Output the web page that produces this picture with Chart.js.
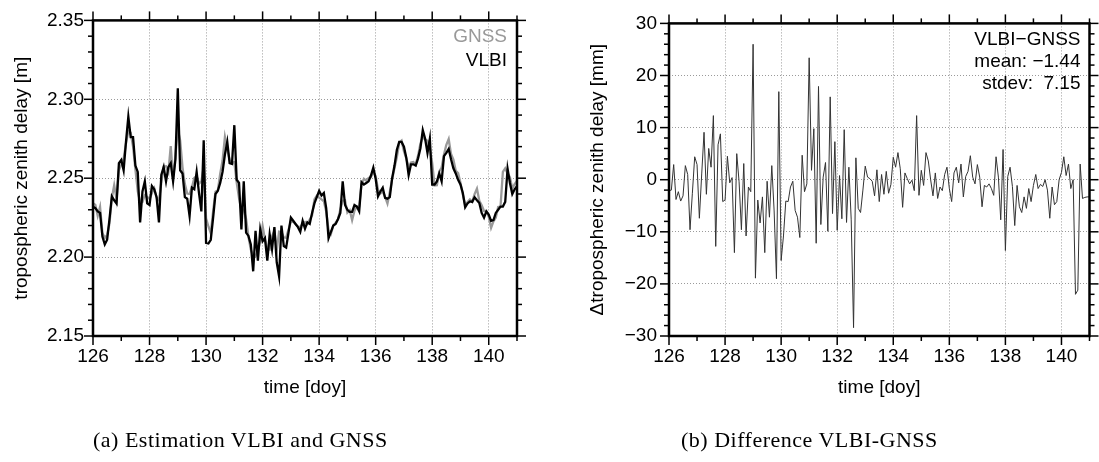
<!DOCTYPE html>
<html>
<head>
<meta charset="utf-8">
<script src="https://cdn.jsdelivr.net/npm/chart.js@4.4.1/dist/chart.umd.min.js"></script>
<style>
  html, body { margin: 0; padding: 0; background: #fff; }
  #wrap { position: relative; width: 1099px; height: 462px; overflow: hidden; background: #fff; }
  canvas { position: absolute; top: 0; }
  #cvLeft { left: 0; width: 549px; height: 462px; }
  #cvRight { left: 549px; width: 550px; height: 462px; }
  .caption { position: absolute; font-family: "Liberation Serif", serif; font-size: 22px; letter-spacing: 0.5px; color: #000; white-space: pre; }
</style>
</head>
<body>
<div id="wrap">
  <canvas id="cvLeft" width="549" height="462"></canvas>
  <canvas id="cvRight" width="550" height="462"></canvas>
  <div class="caption" style="left:93px; top:427px">(a) Estimation VLBI and GNSS</div>
  <div class="caption" style="left:681px; top:427px">(b) Difference VLBI-GNSS</div>
</div>
<script>
// sampling: 2-hourly values from doy 126.0 to 141.0
const DOY_START = 126;
const STEP_HOURS = 2;

// VLBI zenith delay [m]
const vlbiZtd = [
  2.232, 2.231, 2.229, 2.228, 2.213, 2.208, 2.211, 2.224, 2.2385, 2.236,
  2.234, 2.2595, 2.2615, 2.255, 2.273, 2.289, 2.276, 2.276, 2.258, 2.254,
  2.222, 2.2416, 2.248, 2.234, 2.233, 2.245, 2.243, 2.238, 2.222, 2.252,
  2.257, 2.248, 2.257, 2.2595, 2.248, 2.262, 2.307, 2.255, 2.253, 2.238,
  2.237, 2.226, 2.244, 2.243, 2.254, 2.2406, 2.229, 2.274, 2.209, 2.2086,
  2.211, 2.225, 2.240, 2.242, 2.247, 2.254, 2.265, 2.273, 2.2595, 2.259,
  2.2836, 2.249, 2.247, 2.2176, 2.248, 2.2155, 2.2134, 2.208, 2.191, 2.2166,
  2.1977, 2.2176, 2.210, 2.212, 2.1977, 2.2144, 2.205, 2.219, 2.1966, 2.1877,
  2.220, 2.207, 2.206, 2.2155, 2.225, 2.223, 2.221, 2.219, 2.216, 2.223,
  2.218, 2.222, 2.221, 2.228, 2.234, 2.238, 2.242, 2.239, 2.2406, 2.231,
  2.212, 2.216, 2.220, 2.221, 2.224, 2.228, 2.248, 2.233, 2.230, 2.2286,
  2.2286, 2.233, 2.232, 2.229, 2.2475, 2.246, 2.247, 2.248, 2.2517, 2.2567,
  2.2496, 2.2385, 2.2416, 2.244, 2.2375, 2.237, 2.238, 2.250, 2.258, 2.268,
  2.273, 2.273, 2.270, 2.263, 2.252, 2.2588, 2.2588, 2.258, 2.2626, 2.269,
  2.2805, 2.275, 2.266, 2.275, 2.246, 2.246, 2.248, 2.253, 2.248, 2.264,
  2.266, 2.2685, 2.262, 2.2563, 2.253, 2.249, 2.246, 2.2406, 2.2316, 2.234,
  2.2353, 2.235, 2.2379, 2.236, 2.2343, 2.228, 2.225, 2.229, 2.227, 2.223,
  2.2235, 2.228, 2.230, 2.232, 2.232, 2.235, 2.256, 2.247, 2.240, 2.243,
  2.245
];

// GNSS zenith delay [m]
const gnssZtd = [
  2.2341, 2.2330, 2.2261, 2.2318, 2.2153, 2.2121, 2.2141, 2.2213, 2.2375, 2.2456,
  2.2366, 2.2551, 2.2586, 2.2624, 2.2719, 2.2799, 2.2788, 2.2700, 2.2556, 2.2417,
  2.2348, 2.2349, 2.2392, 2.2382, 2.2369, 2.2405, 2.2436, 2.2376, 2.2360, 2.2470,
  2.2574, 2.2576, 2.2539, 2.2703, 2.2494, 2.2643, 2.2810, 2.2739, 2.2569, 2.2463,
  2.2403, 2.2400, 2.2443, 2.2502, 2.2513, 2.2466, 2.2480, 2.2571, 2.2245, 2.2194,
  2.2151, 2.2292, 2.2414, 2.2423, 2.2529, 2.2612, 2.2761, 2.2683, 2.2618, 2.2598,
  2.2602, 2.2472, 2.2372, 2.2298, 2.2301, 2.2241, 2.2129, 2.2047, 2.2009, 2.2007,
  2.2042, 2.2103, 2.2197, 2.2112, 2.2052, 2.2048, 2.2132, 2.2166, 2.2043, 2.2161,
  2.2158, 2.2125, 2.2123, 2.2175, 2.2224, 2.2225, 2.2208, 2.2193, 2.2191, 2.2211,
  2.2222, 2.2210, 2.2238, 2.2264, 2.2366, 2.2389, 2.2377, 2.2366, 2.2354, 2.2289,
  2.2173, 2.2147, 2.2198, 2.2218, 2.2241, 2.2301, 2.2357, 2.2360, 2.2282, 2.2297,
  2.2234, 2.2294, 2.2320, 2.2321, 2.2462, 2.2496, 2.2484, 2.2501, 2.2507, 2.2543,
  2.2513, 2.2427, 2.2403, 2.2416, 2.2381, 2.2340, 2.2413, 2.2494, 2.2564, 2.2634,
  2.2725, 2.2738, 2.2671, 2.2625, 2.2572, 2.2599, 2.2602, 2.2588, 2.2643, 2.2720,
  2.2761, 2.2745, 2.2737, 2.2692, 2.2596, 2.2454, 2.2456, 2.2543, 2.2568, 2.2651,
  2.2712, 2.2748, 2.2653, 2.2618, 2.2547, 2.2532, 2.2471, 2.2396, 2.2333, 2.2349,
  2.2366, 2.2350, 2.2399, 2.2434, 2.2357, 2.2328, 2.2292, 2.2290, 2.2256, 2.2186,
  2.2227, 2.2250, 2.2317, 2.2320, 2.2540, 2.2562, 2.2530, 2.2506, 2.2434, 2.2463,
  2.2483
];

// VLBI - GNSS [mm]
const diffZtd = [
  -2.1, -2.0, 2.9, -3.8, -2.3, -4.1, -3.1, 2.7, 1.0, -9.6,
  -2.6, 4.4, 2.9, -7.4, 1.1, 9.1, -2.8, 6.0, 2.4, 12.3,
  -12.8, 6.7, 8.8, -4.2, -3.9, 4.5, -0.6, 0.4, -14.0, 5.0,
  -0.4, -9.6, 3.1, -10.8, -1.4, -2.3, 26.0, -18.9, -3.9, -8.3,
  -3.3, -14.0, -0.3, -7.2, 2.7, -6.0, -19.0, 16.9, -15.5, -10.8,
  -4.1, -4.2, -1.4, -0.3, -5.9, -7.2, -11.1, 4.7, -2.3, -0.8,
  23.4, 1.8, 9.8, -12.2, 17.9, -8.6, 0.5, 3.3, -9.9, 15.9,
  -6.5, 7.3, -9.7, 0.8, -7.5, 9.6, -8.2, 2.4, -7.7, -28.4,
  4.2, -5.5, -6.3, -2.0, 2.6, 0.5, 0.2, -0.3, -3.1, 1.9,
  -4.2, 1.0, -2.8, 1.6, -2.6, -0.9, 4.3, 2.4, 5.2, 2.1,
  -5.3, 1.3, 0.2, -0.8, -0.1, -2.1, 12.3, -3.0, 1.8, -1.1,
  5.2, 3.6, 0.0, -3.1, 1.3, -3.6, -1.4, -2.1, 1.0, 2.4,
  -1.7, -4.2, 1.3, 2.4, -0.6, 3.0, -3.3, 0.6, 1.6, 4.6,
  0.5, -0.8, 2.9, 0.5, -5.2, -1.1, -1.4, -0.8, -1.7, -3.0,
  4.4, 0.5, -7.7, 5.8, -13.6, 0.6, 2.4, -1.3, -8.8, -1.1,
  -5.2, -6.3, -3.3, -5.5, -1.7, -4.2, -1.1, 1.0, -1.7, -0.9,
  -1.3, 0.0, -2.0, -7.4, -1.4, -4.8, -4.2, 0.0, 1.4, 4.4,
  0.8, 3.0, -1.7, 0.0, -22.0, -21.2, 3.0, -3.6, -3.4, -3.3,
  -3.3
];

const leftLegend = ["GNSS", "VLBI"];
const statsLines = ["VLBI\u2212GNSS", "mean: \u22121.44", "stdev:  7.15"];

const doy = vlbiZtd.map((_, i) => DOY_START + i * STEP_HOURS / 24);
const toXY = vals => vals.map((v, i) => ({ x: doy[i], y: v }));

const FONT = "'Liberation Sans', Arial, sans-serif";
const GRID = "#9a9a9a";
Chart.defaults.font.family = FONT;
Chart.defaults.font.size = 19;
Chart.defaults.color = "#000";

// frame plus major/minor tick marks on all four sides
const frameTicks = {
  id: "frameTicks",
  afterDatasetsDraw(chart) {
    const { ctx, chartArea: a, scales } = chart;
    const seg = (x1, y1, x2, y2) => { ctx.beginPath(); ctx.moveTo(x1, y1); ctx.lineTo(x2, y2); ctx.stroke(); };
    ctx.save();
    ctx.strokeStyle = "#000";
    ctx.lineWidth = 1.5;
    scales.x.ticks.forEach(t => {
      const px = scales.x.getPixelForValue(t.value);
      const len = t.label !== "" ? 9 : 5;
      seg(px, a.bottom, px, a.bottom + len);
      seg(px, a.top, px, a.top - len);
    });
    scales.y.ticks.forEach(t => {
      const py = scales.y.getPixelForValue(t.value);
      const len = t.label !== "" ? 9 : 5;
      seg(a.left, py, a.left - len, py);
      seg(a.right, py, a.right + len, py);
    });
    ctx.lineWidth = 2.5;
    ctx.strokeRect(a.left, a.top, a.right - a.left, a.bottom - a.top);
    ctx.restore();
  }
};

// right-aligned text block in the upper right corner of the plot
const cornerText = {
  id: "cornerText",
  afterDraw(chart, args, opts) {
    const { ctx, chartArea: a } = chart;
    ctx.save();
    ctx.font = opts.size + "px " + FONT;
    ctx.textAlign = "right";
    ctx.textBaseline = "middle";
    opts.lines.forEach((txt, i) => {
      ctx.fillStyle = opts.colors[i];
      ctx.fillText(txt, a.right - opts.inset, a.top + opts.firstY + i * opts.gap);
    });
    ctx.restore();
  }
};

function makePanel(id, datasets, geom, yCfg, textOpts) {
  return new Chart(document.getElementById(id), {
    type: "line",
    data: { datasets },
    options: {
      responsive: false,
      animation: false,
      layout: { padding: { left: 0, top: 17, right: geom.padRight, bottom: 56 } },
      elements: { point: { radius: 0 }, line: { tension: 0 } },
      plugins: { legend: { display: false }, tooltip: { enabled: false }, cornerText: textOpts },
      scales: {
        x: {
          type: "linear", min: 126, max: 141,
          afterFit: s => { s.height = 70; },
          ticks: { stepSize: 1, autoSkip: false, maxRotation: 0, padding: 9.5,
            callback: v => (v % 2 === 0 ? String(v) : "") },
          grid: { drawTicks: false, lineWidth: 1,
            color: c => (c.tick && c.tick.value % 2 === 0 ? GRID : "rgba(0,0,0,0)") },
          border: { display: false, dash: [1, 2] },
          title: { display: true, text: "time [doy]", padding: { top: 0, bottom: 6.5 } }
        },
        y: {
          type: "linear", min: yCfg.min, max: yCfg.max,
          afterFit: s => { s.width = geom.yWidth; },
          ticks: { stepSize: yCfg.minor, autoSkip: false, padding: geom.labelPad, callback: yCfg.label },
          grid: { drawTicks: false, lineWidth: 1,
            color: c => (c.tick && yCfg.label(c.tick.value) !== "" ? GRID : "rgba(0,0,0,0)") },
          border: { display: false, dash: [1, 2] },
          title: { display: true, text: yCfg.title, padding: { top: geom.titlePad, bottom: 0 } }
        }
      }
    },
    plugins: [frameTicks, cornerText]
  });
}

makePanel("cvLeft", [
  { label: "VLBI", data: toXY(vlbiZtd), borderColor: "#000", borderWidth: 2.3 },
  { label: "GNSS", data: toXY(gnssZtd), borderColor: "#999", borderWidth: 2.3 }
], { padRight: 32, yWidth: 93, labelPad: 9, titlePad: 10.5 }, {
  min: 2.15, max: 2.35, minor: 0.01,
  label: v => (Math.round(v * 100) % 5 === 0 ? v.toFixed(2) : ""),
  title: "tropospheric zenith delay [m]"
}, { lines: [leftLegend[0], leftLegend[1]], colors: ["#999", "#000"], size: 19, inset: 10, firstY: 16, gap: 24 });

makePanel("cvRight", [
  { label: "VLBI-GNSS", data: toXY(diffZtd), borderColor: "#333", borderWidth: 1 }
], { padRight: 7, yWidth: 120, labelPad: 12, titlePad: 37.5 }, {
  min: -30, max: 30, minor: 2,
  label: v => (Math.round(v) % 10 === 0 ? String(v).replace("-", "\u2212") : ""),
  title: "\u0394tropospheric zenith delay [mm]"
}, { lines: statsLines, colors: ["#000", "#000", "#000"], size: 19, inset: 9, firstY: 16, gap: 22 });
</script>
</body>
</html>
